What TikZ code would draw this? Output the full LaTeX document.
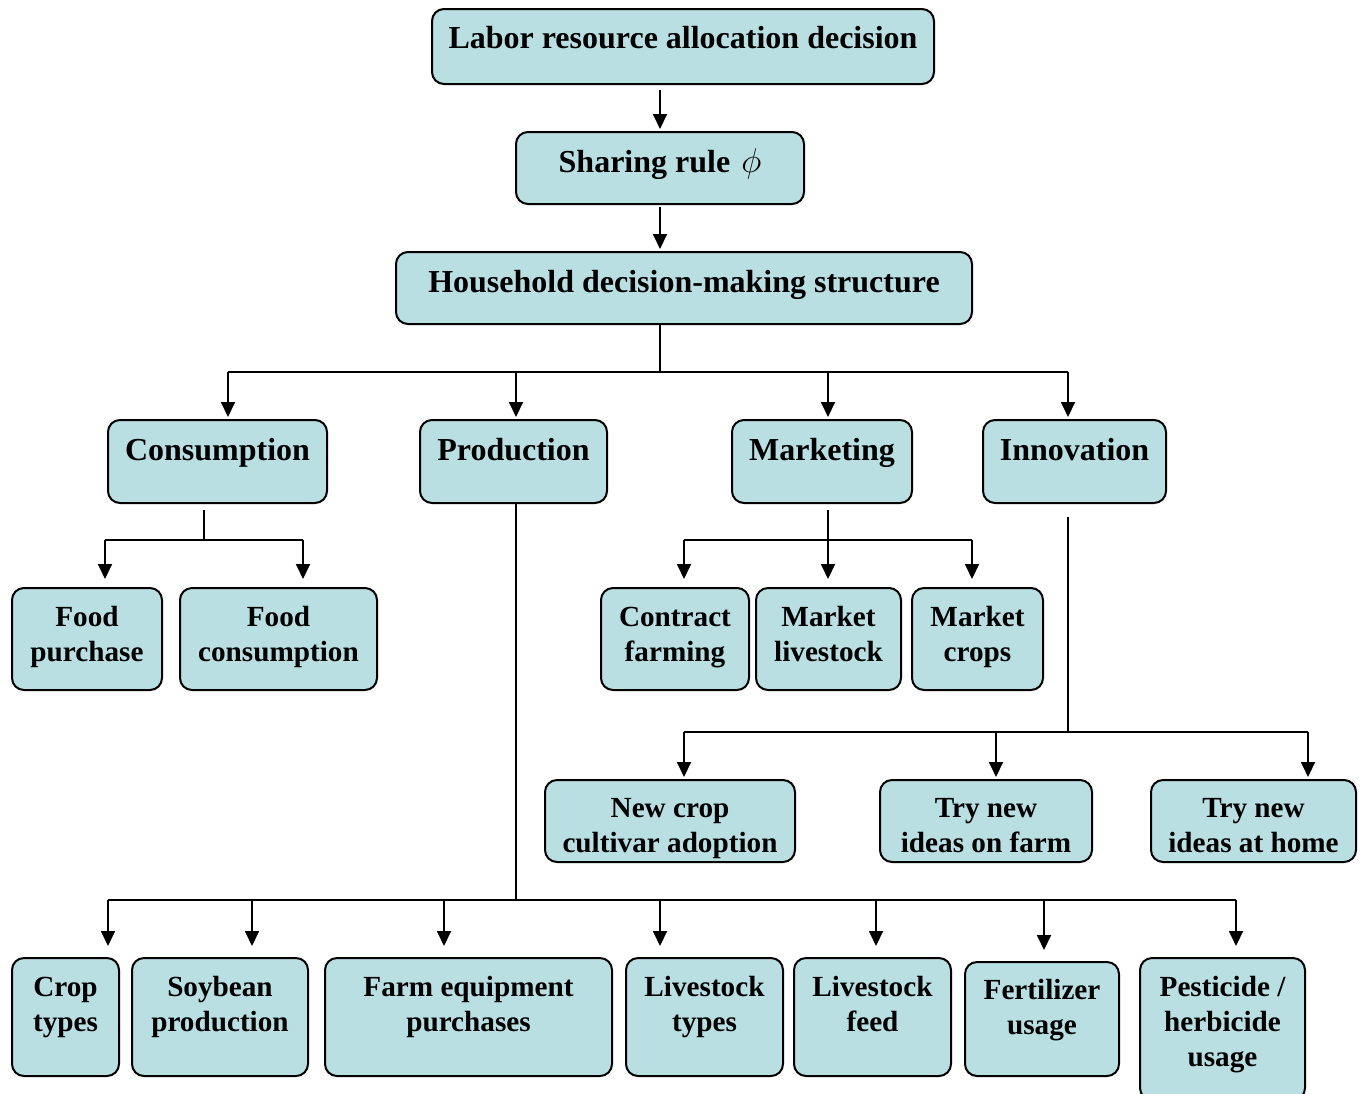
\documentclass[tikz,border=0pt]{standalone}
\usepackage{fontspec}
\setmainfont{Liberation Serif}
\usetikzlibrary{arrows.meta}
\definecolor{boxfill}{HTML}{B9DFE3}
\tikzset{
  box/.style={draw=black, line width=1pt, fill=boxfill, rounded corners=6pt, inner sep=0pt},
  lbl/.style={align=center, anchor=base, inner sep=0pt,
    font=\fontsize{16}{17.5}\selectfont\bfseries},
  lblsm/.style={lbl, font=\fontsize{14.6}{17.5}\selectfont\bfseries},
  link/.style={line width=0.9pt},
  arr/.style={line width=0.9pt, -{Triangle[length=7.5pt,width=7pt]}},
}
% \tbox[label style]{name}{x1}{y1}{x2}{y2}{baseline of last line}{text}
\newcommand\tbox[8][lbl]{%
  \node[box, minimum width={(#5-#3)*0.5pt}, minimum height={(#6-#4)*0.5pt}]
    (#2) at ({(#3+#5)/2},{(#4+#6)/2}) {};
  \node[#1] (#2-t) at ({(#3+#5)/2},#7) {#8};
}
\begin{document}
\begin{tikzpicture}[x=0.5pt,y=-0.5pt]
\useasboundingbox (0,0) rectangle (1363,1093);

% top chain
\tbox{labor}{432}{9}{934}{84}{48}{Labor resource allocation decision}
\tbox{share}{516}{132}{804}{204}{172}{Sharing rule\hspace{5.5pt}$\phi$}
\tbox{house}{396}{252}{972}{324}{292}{Household decision-making structure}

% four domains
\tbox{cons}{108}{420}{327}{503}{460}{Consumption}
\tbox{prod}{420}{420}{607}{503}{460}{Production}
\tbox{mark}{732}{420}{912}{503}{460}{Marketing}
\tbox{innov}{983}{420}{1166}{503}{460}{Innovation}

% consumption items
\tbox[lblsm]{fpur}{12}{588}{162}{690}{661}{Food\\purchase}
\tbox[lblsm]{fcon}{180}{588}{377}{690}{661}{Food\\consumption}

% marketing items
\tbox[lblsm]{contract}{601}{588}{749}{690}{661}{Contract\\farming}
\tbox[lblsm]{mlive}{756}{588}{901}{690}{661}{Market\\livestock}
\tbox[lblsm]{mcrop}{912}{588}{1043}{690}{661}{Market\\crops}

% innovation items
\tbox[lblsm]{newcrop}{545}{780}{795}{862}{852}{New crop\\cultivar adoption}
\tbox[lblsm]{tryfarm}{880}{780}{1092}{862}{852}{Try new\\ideas on farm}
\tbox[lblsm]{tryhome}{1151}{780}{1356}{862}{852}{Try new\\ideas at home}

% production items
\tbox[lblsm]{crop}{12}{958}{119}{1076}{1031}{Crop\\types}
\tbox[lblsm]{soy}{132}{958}{308}{1076}{1031}{Soybean\\production}
\tbox[lblsm]{equip}{325}{958}{612}{1076}{1031}{Farm equipment\\purchases}
\tbox[lblsm]{ltype}{626}{958}{783}{1076}{1031}{Livestock\\types}
\tbox[lblsm]{lfeed}{794}{958}{951}{1076}{1031}{Livestock\\feed}
\tbox[lblsm]{fert}{965}{962}{1119}{1076}{1034}{Fertilizer\\usage}
\tbox[lblsm]{pest}{1140}{958}{1305}{1100}{1066}{Pesticide /\\herbicide\\usage}

% junction points of the connector buses
\coordinate (hsplit) at (660,372);
\coordinate (dcons) at (228,372);
\coordinate (dprod) at (516,372);
\coordinate (dmark) at (828,372);
\coordinate (dinnov) at (1068,372);

\coordinate (csplit) at (204,540);
\coordinate (dfpur) at (105,540);
\coordinate (dfcon) at (303,540);

\coordinate (msplit) at (828,540);
\coordinate (dcontract) at (684,540);
\coordinate (dmcrop) at (972,540);

\coordinate (isplit) at (1068,732);
\coordinate (dnewcrop) at (684,732);
\coordinate (dtryfarm) at (996,732);
\coordinate (dtryhome) at (1308,732);

\coordinate (psplit) at (516,900);
\coordinate (dcrop) at (108,900);
\coordinate (dsoy) at (252,900);
\coordinate (dequip) at (444,900);
\coordinate (dltype) at (660,900);
\coordinate (dlfeed) at (876,900);
\coordinate (dfert) at (1044,900);
\coordinate (dpest) at (1236,900);

% top chain arrows
\draw[arr, shorten <=2.5pt, shorten >=1pt] (share.north |- labor.south) -- (share.north);
\draw[arr, shorten <=1pt, shorten >=1pt] (share.south) -- (share.south |- house.north);

% household to domains
\draw[link] (hsplit |- house.south) -- (hsplit);
\draw[link] (dcons) -- (dinnov);
\foreach \d/\b in {dcons/cons, dprod/prod, dmark/mark, dinnov/innov}
  \draw[arr, shorten >=1pt] (\d) -- (\d |- \b.north);

% consumption
\draw[link, shorten <=3pt] (csplit |- cons.south) -- (csplit);
\draw[link] (dfpur) -- (dfcon);
\foreach \d/\b in {dfpur/fpur, dfcon/fcon}
  \draw[arr, shorten >=4pt] (\d) -- (\d |- \b.north);

% marketing
\draw[link, shorten <=3pt] (msplit |- mark.south) -- (msplit);
\draw[link] (dcontract) -- (dmcrop);
\foreach \d/\b in {dcontract/contract, msplit/mlive, dmcrop/mcrop}
  \draw[arr, shorten >=4pt] (\d) -- (\d |- \b.north);

% innovation
\draw[link, shorten <=6.5pt] (isplit |- innov.south) -- (isplit);
\draw[link] (dnewcrop) -- (dtryhome);
\foreach \d/\b in {dnewcrop/newcrop, dtryfarm/tryfarm, dtryhome/tryhome}
  \draw[arr, shorten >=1pt] (\d) -- (\d |- \b.north);

% production
\draw[link] (psplit |- prod.south) -- (psplit);
\draw[link] (dcrop) -- (dpest);
\foreach \d/\b in {dcrop/crop, dsoy/soy, dequip/equip, dltype/ltype, dlfeed/lfeed, dfert/fert, dpest/pest}
  \draw[arr, shorten >=5.5pt] (\d) -- (\d |- \b.north);
\end{tikzpicture}
\end{document}
